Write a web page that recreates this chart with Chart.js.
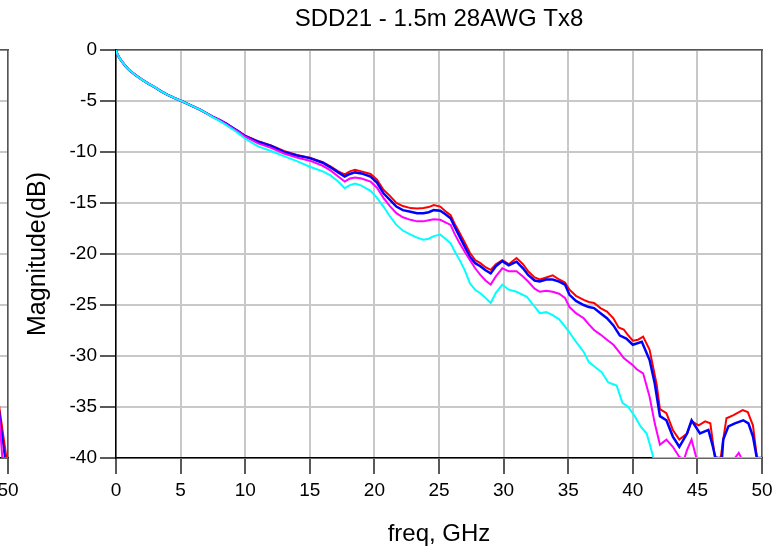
<!DOCTYPE html>
<html>
<head>
<meta charset="utf-8">
<script src="https://cdn.jsdelivr.net/npm/chart.js@4.4.1/dist/chart.umd.min.js"></script>
<style>
  html, body { margin: 0; padding: 0; background: #fff; }
  body { width: 781px; height: 547px; overflow: hidden; position: relative; }
  canvas { position: absolute; top: 0; }
  #prev { left: -754px; }
  #main { left: 0; }
</style>
</head>
<body>
<canvas id="prev" width="781" height="547"></canvas>
<canvas id="main" width="781" height="547"></canvas>
<script>
const FONT = "'Liberation Sans', Arial, sans-serif";

// all four traces sit on top of each other below 7 GHz
const lowFreq = [0, 0.1, 0.25, 0.5, 0.75, 1, 1.5, 2, 2.5, 3, 3.5, 4, 4.5, 5, 5.5, 6, 6.5, 7];
const lowMag = [0, -0.4, -0.75, -1.2, -1.6, -1.95, -2.45, -2.9, -3.3, -3.65, -4.05, -4.4, -4.7, -4.97, -5.25, -5.55, -5.85, -6.2];

const midFreq = [7.5, 8, 8.5, 9, 9.5, 10, 11, 12, 13, 14, 15, 16, 16.6, 17.2, 17.7, 18.1, 18.5, 19, 19.7, 20.2, 20.7,
  21.2, 21.7, 22.2, 22.8, 23.3, 23.8, 24.2, 24.6, 25.1, 25.5, 25.9, 26.2, 26.6, 27, 27.4, 27.8, 28.2, 28.6, 29, 29.4, 29.9, 30.4, 31];
const redMid = [-6.55, -6.85, -7.2, -7.6, -8.0, -8.4, -8.95, -9.35, -9.9, -10.3, -10.55, -11.0, -11.4, -11.9, -12.2, -11.9, -11.75, -11.9, -12.15, -12.7, -13.7,
  -14.3, -15.0, -15.3, -15.5, -15.55, -15.5, -15.4, -15.2, -15.35, -15.8, -16.2, -17.0, -17.95, -18.9, -19.9, -20.6, -20.9, -21.3, -21.55, -21.0, -20.6, -21.0, -20.4];
const blueMid = [-6.55, -6.85, -7.2, -7.6, -8.0, -8.45, -9.0, -9.4, -10.0, -10.35, -10.6, -11.05, -11.5, -12.0, -12.4, -12.15, -12.0, -12.1, -12.4, -13.0, -14.05,
  -14.7, -15.35, -15.7, -15.85, -16.0, -16.0, -15.9, -15.7, -15.75, -16.1, -16.5, -17.3, -18.3, -19.3, -20.3, -20.9, -21.2, -21.6, -21.9, -21.2, -20.7, -21.1, -20.75];
const magentaMid = [-6.55, -6.85, -7.25, -7.65, -8.05, -8.5, -9.15, -9.6, -10.15, -10.55, -10.85, -11.35, -11.8, -12.4, -12.9, -12.6, -12.5, -12.6, -12.9, -13.5, -14.5,
  -15.3, -16.0, -16.4, -16.65, -16.8, -16.8, -16.7, -16.6, -16.65, -16.9, -17.15, -18.0, -18.95, -19.8, -20.6, -21.4, -22.05, -22.6, -23.0, -22.2, -21.4, -21.7, -21.7];
const cyanMid = [-6.6, -6.95, -7.35, -7.75, -8.2, -8.7, -9.45, -9.9, -10.4, -10.9, -11.45, -11.9, -12.3, -12.9, -13.55, -13.25, -13.1, -13.3, -13.8, -14.5, -15.35,
  -16.3, -17.15, -17.7, -18.1, -18.4, -18.6, -18.5, -18.25, -18.1, -18.5, -18.95, -19.7, -20.6, -21.6, -22.9, -23.5, -23.85, -24.3, -24.8, -23.8, -23.0, -23.5, -23.7];

const redTailFreq = [31.5, 31.9, 32.4, 32.8, 33.3, 33.8, 34.3, 34.75, 35.1, 35.6, 36.2, 36.6, 37, 37.5, 38, 38.5, 38.9, 39.3, 39.6, 40,
  40.4, 40.8, 41.3, 41.85, 42.1, 42.6, 43.1, 43.6, 44.2, 44.55, 45.1, 45.6, 46, 46.35, 46.6, 46.8, 47, 47.25, 47.8, 48.5, 48.9, 49.3, 49.6, 49.7, 50];
const redTail = [-21.0, -21.7, -22.3, -22.5, -22.3, -22.1, -22.5, -22.8, -23.5, -24.1, -24.5, -24.7, -24.8, -25.3, -25.65, -26.3, -27.2, -27.4, -27.9, -28.5,
  -28.4, -28.1, -29.4, -32.8, -35.2, -35.6, -37.25, -38.2, -37.6, -36.4, -36.8, -36.4, -36.6, -39.9, -40, -40, -38.2, -36.1, -35.8, -35.3, -35.5, -36.8, -39.9, -40, -40];

const blueTailFreq = [31.5, 31.9, 32.4, 32.8, 33.3, 33.8, 34.3, 34.75, 35.1, 35.6, 36.2, 36.6, 37, 37.5, 38, 38.5, 39, 39.5, 40, 40.7,
  41.3, 41.7, 42.1, 42.6, 43.1, 43.6, 44.2, 44.55, 45.2, 45.85, 46.2, 46.4, 46.9, 47, 47.4, 47.9, 48.55, 48.95, 49.3, 49.6, 50];
const blueTail = [-21.4, -22.05, -22.6, -22.7, -22.5, -22.5, -22.7, -23.0, -24.0, -24.6, -25.0, -25.2, -25.3, -25.8, -26.3, -27.0, -28.0, -28.3, -28.9, -28.6,
  -30.4, -32.7, -35.9, -36.3, -37.9, -38.9, -37.6, -36.3, -37.6, -37.25, -38.9, -40, -40, -38.2, -36.9, -36.6, -36.3, -36.6, -37.9, -40, -40];

const magentaTailFreq = [31.5, 31.9, 32.4, 32.8, 33.3, 33.8, 34.3, 34.75, 35.1, 35.6, 36.2, 36.6, 37, 37.5, 38, 38.5, 39, 39.3, 40, 40.3,
  40.8, 41.3, 41.7, 42.1, 42.6, 43.1, 43.6, 43.8, 44, 44.2, 44.55, 44.9, 45, 47.9, 48.2, 48.4, 50];
const magentaTail = [-22.2, -22.7, -23.4, -23.7, -23.6, -23.7, -23.9, -24.3, -25.2, -25.8, -26.3, -26.9, -27.45, -27.9, -28.4, -28.9, -29.7, -30.2, -30.9, -31.3,
  -31.7, -34.0, -36.6, -38.7, -38.2, -38.9, -39.9, -40, -40, -39.2, -38.2, -39.9, -40, -40, -39.5, -40, -40];

const cyanTailFreq = [31.8, 32.3, 32.8, 33.3, 33.8, 34.3, 34.75, 35.1, 35.6, 36.2, 36.6, 37.2, 37.6, 38.1, 38.75, 39.2, 39.65, 40.2, 40.6, 41.07, 41.3, 41.6, 50];
const cyanTail = [-24.2, -25.0, -25.8, -25.7, -26.0, -26.4, -27.1, -27.7, -28.6, -29.6, -30.6, -31.2, -31.6, -32.6, -32.9, -34.6, -35.0, -36.0, -36.9, -37.6, -38.6, -40, -40];

// right-hand end of the neighbouring plot, cut off at the left edge
const prevRedFreq = [49.3, 49.88, 50];
const prevRedMag = [-34.8, -40, -40];
const prevBlueFreq = [49.3, 49.76, 50];
const prevBlueMag = [-35.2, -40, -40];
const prevMagentaFreq = [49.3, 49.56, 50];
const prevMagentaMag = [-35.5, -40, -40];

const xTicks = { min: 0, max: 50, step: 5 };
const yTicks = { min: -40, max: 0, step: 5 };

const toPoints = (freqs, mags) => freqs.map((f, i) => ({ x: f, y: mags[i] }));
const trace = (freqs, mags) => toPoints(lowFreq.concat(freqs), lowMag.concat(mags));

function lineSet(label, color, width, points) {
  return {
    label: label,
    data: points,
    borderColor: color,
    backgroundColor: color,
    borderWidth: width,
    pointRadius: 0,
    tension: 0,
    fill: false,
    xAxisID: "x",
    yAxisID: "y",
  };
}

function buildOptions(titleText, yTitle) {
  return {
    responsive: false,
    animation: false,
    events: [],
    layout: { padding: 0 },
    plugins: { legend: { display: false }, tooltip: { enabled: false } },
    scales: {
      x: {
        type: "linear",
        position: "bottom",
        min: xTicks.min,
        max: xTicks.max,
        ticks: { stepSize: xTicks.step, color: "#000", font: { family: FONT, size: 19 }, padding: 5, maxRotation: 0, autoSkip: false },
        grid: { color: "#c8c8c8", lineWidth: 2, tickColor: "#222", tickWidth: 1.5, tickLength: 16 },
        border: { color: "#000", width: 1.5 },
        title: { display: true, text: "freq, GHz", color: "#000", font: { family: FONT, size: 24, lineHeight: 1 }, padding: { top: 0, bottom: 1 } },
        afterFit: (s) => { s.height = 89; },
      },
      xTop: {
        axis: "x",
        type: "linear",
        position: "top",
        min: xTicks.min,
        max: xTicks.max,
        ticks: { display: false },
        grid: { display: false },
        border: { color: "#555", width: 1.5 },
        title: { display: !!titleText, text: titleText, color: "#000", font: { family: FONT, size: 24, lineHeight: 1 }, padding: { top: 7, bottom: 0 } },
        afterFit: (s) => { s.height = 50; },
      },
      y: {
        type: "linear",
        position: "left",
        min: yTicks.min,
        max: yTicks.max,
        ticks: { stepSize: yTicks.step, color: "#000", font: { family: FONT, size: 19 }, padding: 3 },
        grid: { color: "#c8c8c8", lineWidth: 2, tickColor: "#222", tickWidth: 1.5, tickLength: 16 },
        border: { color: "#000", width: 1.5 },
        title: { display: !!yTitle, text: yTitle, color: "#000", font: { family: FONT, size: 25, lineHeight: 1 }, padding: { top: 26, bottom: 0 } },
        afterFit: (s) => { s.width = 116; },
      },
      yRight: {
        axis: "y",
        type: "linear",
        position: "right",
        min: yTicks.min,
        max: yTicks.max,
        ticks: { display: false },
        grid: { display: false },
        border: { color: "#555", width: 1.5 },
        afterFit: (s) => { s.width = 19; },
      },
    },
  };
}

// first dataset is drawn last, so cyan ends up on top like in the original
new Chart(document.getElementById("main"), {
  type: "line",
  data: {
    datasets: [
      lineSet("Tx8 cyan", "#00ffff", 2, trace(midFreq.concat(cyanTailFreq), cyanMid.concat(cyanTail))),
      lineSet("Tx8 magenta", "#ff00ff", 2, trace(midFreq.concat(magentaTailFreq), magentaMid.concat(magentaTail))),
      lineSet("Tx8 blue", "#0000ff", 2.5, trace(midFreq.concat(blueTailFreq), blueMid.concat(blueTail))),
      lineSet("Tx8 red", "#ff0000", 2, trace(midFreq.concat(redTailFreq), redMid.concat(redTail))),
    ],
  },
  options: buildOptions("SDD21 - 1.5m 28AWG Tx8", "Magnitude(dB)"),
});

new Chart(document.getElementById("prev"), {
  type: "line",
  data: {
    datasets: [
      lineSet("magenta", "#ff00ff", 2, toPoints(prevMagentaFreq, prevMagentaMag)),
      lineSet("blue", "#0000ff", 2, toPoints(prevBlueFreq, prevBlueMag)),
      lineSet("red", "#ff0000", 2, toPoints(prevRedFreq, prevRedMag)),
    ],
  },
  options: buildOptions("", ""),
});
</script>
</body>
</html>
